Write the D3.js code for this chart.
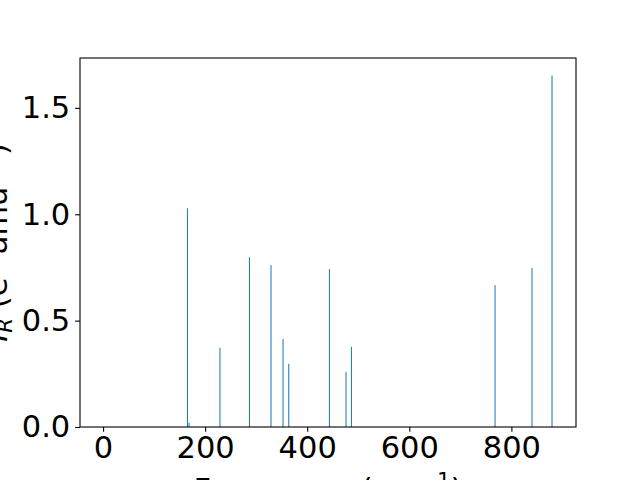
<!DOCTYPE html>
<html><head><meta charset="utf-8">
<script src="https://cdn.jsdelivr.net/npm/d3@7"></script>
<style>body{margin:0;background:#fff;} svg{display:block;}</style>
</head><body>
<script>
const frequencies = [165.3, 168.5, 229, 286.8, 329, 352.6, 363.8, 443.5, 476, 486.6, 768, 840.4, 879.6];
const intensities = [1.028, 0.02, 0.372, 0.798, 0.761, 0.414, 0.297, 0.742, 0.259, 0.377, 0.667, 0.747, 1.652];
const xTicks = [0, 200, 400, 600, 800];
const yTicks = [0.0, 0.5, 1.0, 1.5];
const barWidth = 2;

const W = 640, H = 480;
const m = {left: 80, right: 576, top: 58, bottom: 427};
const svg = d3.select("body").append("svg").attr("width", W).attr("height", H);
const x = d3.scaleLinear().domain([-45.2, 926.6]).range([m.left, m.right]);
const y = d3.scaleLinear().domain([0, 1.7345]).range([m.bottom, m.top]);
const font = "DejaVu Sans";
const fs = 30.5;

svg.append("g").selectAll("rect").data(frequencies).join("rect")
  .attr("x", (d) => x(d - barWidth/2))
  .attr("width", (d) => x(d + barWidth/2) - x(d - barWidth/2))
  .attr("y", (d, i) => y(intensities[i]))
  .attr("height", (d, i) => y(0) - y(intensities[i]))
  .attr("fill", "#1f77b4");

const xAxis = svg.append("g").attr("transform", `translate(0,${m.bottom})`)
  .call(d3.axisBottom(x).tickValues(xTicks).tickFormat(d3.format("d")).tickSize(4.86).tickPadding(4.86));
const yAxis = svg.append("g").attr("transform", `translate(${m.left},0)`)
  .call(d3.axisLeft(y).tickValues(yTicks).tickFormat(d3.format(".1f")).tickSize(4.86).tickPadding(4.86));
[xAxis, yAxis].forEach(a => {
  a.select(".domain").remove();
  a.selectAll("line").attr("stroke", "#000").attr("stroke-width", 1.1);
  a.selectAll("text").attr("font-family", font).attr("font-size", fs).attr("fill", "#000");
});

svg.append("rect").attr("x", m.left).attr("y", m.top)
  .attr("width", m.right - m.left).attr("height", m.bottom - m.top)
  .attr("fill", "none").attr("stroke", "#000").attr("stroke-width", 1.1);

// x label
const xl = svg.append("text").attr("x", (m.left + m.right)/2).attr("y", 500)
  .attr("text-anchor", "middle").attr("font-family", font).attr("font-size", fs);
xl.append("tspan").text("Frequency (cm");
xl.append("tspan").attr("dy", -12).attr("font-size", fs*0.7).text("\u22121");
xl.append("tspan").attr("dy", 12).text(")");

// y label
const yl = svg.append("text").attr("transform", `translate(7,${(m.top + m.bottom)/2}) rotate(-90)`)
  .attr("text-anchor", "middle").attr("font-family", font).attr("font-size", fs);
yl.append("tspan").attr("font-style", "italic").text("I");
yl.append("tspan").attr("font-style", "italic").attr("dy", 5).attr("font-size", fs*0.7).text("R");
yl.append("tspan").attr("dy", -5).text(" (e");
yl.append("tspan").attr("dy", -12).attr("font-size", fs*0.7).text("2");
yl.append("tspan").attr("dy", 12).text(" amu");
yl.append("tspan").attr("dy", -12).attr("font-size", fs*0.7).text("\u22121");
yl.append("tspan").attr("dy", 12).text(")");
</script>
</body></html>
